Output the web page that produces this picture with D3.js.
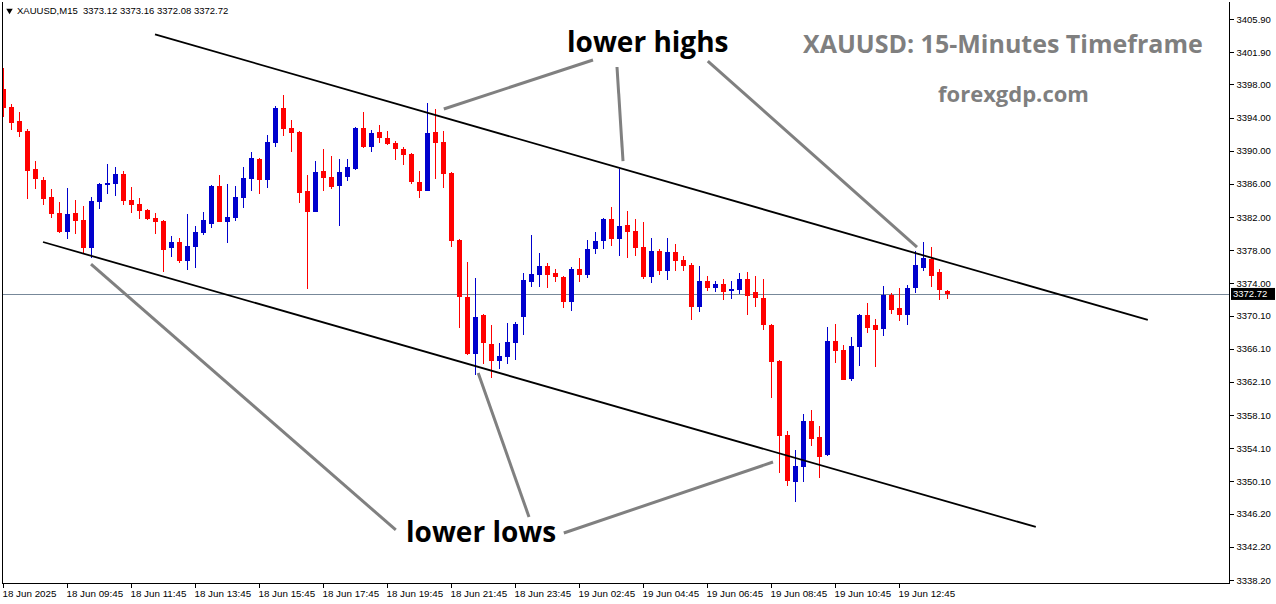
<!DOCTYPE html>
<html>
<head>
<meta charset="utf-8">
<script src="https://cdn.jsdelivr.net/npm/d3@7"></script>
<style>
html,body{margin:0;padding:0;background:#fff;}
svg{display:block;}
</style>
</head>
<body>
<svg id="chart" width="1276" height="604"></svg>
<script>
// ---- DATA (XAUUSD M15, 18 Jun 2025 07:45 -> 19 Jun 14:15) ----
const opens = [3397.46,3395.29,3393.60,3392.39,3387.80,3386.48,3384.46,3382.49,3380.23,3382.49,
3381.65,3378.31,3383.87,3385.91,3386.03,3387.20,3384.06,3383.58,3382.86,3381.89,
3381.53,3378.21,3379.02,3376.64,3378.43,3380.12,3381.20,3385.75,3381.45,3381.93,
3384.34,3386.64,3389.01,3386.52,3390.98,3395.16,3392.75,3392.27,3385.15,3382.65,
3387.60,3386.84,3385.79,3386.84,3387.84,3392.79,3390.50,3392.27,3391.55,3390.94,
3390.22,3389.61,3386.28,3385.19,3392.27,3391.06,3387.32,3379.26,3372.39,3365.43,
3370.22,3366.72,3364.58,3365.07,3366.76,3369.89,3374.20,3375.04,3376.09,3375.25,
3374.77,3371.79,3375.73,3375.04,3378.19,3379.06,3381.77,3379.39,3381.04,3380.32,
3378.39,3374.80,3377.90,3375.53,3377.78,3376.82,3376.21,3371.18,3374.28,3373.48,
3373.92,3373.11,3373.24,3374.52,3372.99,3372.27,3369.01,3364.67,3355.74,3350.07,
3351.88,3357.43,3355.50,3353.33,3367.08,3366.00,3362.51,3366.37,3370.23,3369.02,
3368.54,3372.63,3371.06,3370.22,3373.39,3375.89,3376.98,3375.40,3373.12];
const highs = [3399.96,3395.65,3394.68,3392.63,3388.77,3386.87,3385.43,3383.82,3385.51,3384.06,
3383.34,3384.47,3386.12,3388.41,3388.05,3387.56,3385.67,3384.34,3383.00,3382.53,
3381.69,3379.66,3379.50,3382.37,3380.93,3382.61,3385.87,3387.08,3385.99,3385.75,
3388.05,3389.86,3389.10,3391.91,3395.41,3396.77,3393.72,3392.43,3387.08,3388.77,
3390.22,3389.37,3389.01,3389.01,3392.91,3394.68,3392.51,3393.15,3392.39,3391.19,
3390.50,3389.70,3387.60,3395.77,3395.04,3392.39,3387.40,3379.35,3376.61,3374.68,
3370.30,3369.01,3366.84,3369.25,3369.37,3375.28,3379.87,3377.66,3376.45,3375.73,
3374.85,3375.97,3377.06,3379.23,3380.20,3381.85,3383.21,3387.84,3382.73,3381.77,
3381.41,3379.47,3378.15,3379.47,3378.75,3377.30,3376.49,3376.09,3374.92,3374.28,
3374.56,3374.28,3375.25,3375.37,3374.89,3374.56,3369.13,3364.76,3356.22,3353.93,
3358.28,3358.76,3356.83,3368.77,3369.13,3366.61,3367.58,3370.35,3371.68,3369.74,
3373.72,3372.88,3373.48,3373.85,3377.93,3379.03,3378.43,3375.76,3373.16];
const lows = [3394.11,3392.51,3391.70,3384.22,3385.39,3383.50,3381.93,3380.12,3379.39,3380.00,
3377.70,3377.07,3383.02,3384.83,3384.55,3383.46,3382.53,3381.81,3381.70,3380.00,
3375.42,3377.13,3376.40,3375.67,3375.90,3379.88,3380.72,3381.40,3378.91,3381.57,
3383.13,3385.19,3384.83,3385.55,3390.50,3391.82,3389.89,3383.75,3373.36,3382.55,
3385.19,3385.43,3380.96,3386.40,3387.68,3390.34,3389.89,3390.98,3390.74,3388.93,
3388.33,3386.04,3384.34,3385.10,3386.64,3385.55,3378.34,3368.57,3365.36,3362.89,
3364.22,3362.53,3363.62,3364.22,3364.71,3367.72,3373.60,3373.60,3373.48,3374.20,
3371.06,3370.70,3374.20,3374.68,3377.54,3378.19,3378.55,3377.34,3377.10,3377.34,
3374.56,3374.08,3375.04,3374.44,3375.53,3375.53,3369.61,3370.58,3373.11,3372.99,
3372.03,3372.15,3372.75,3370.22,3371.18,3368.41,3360.21,3351.16,3349.59,3347.66,
3350.07,3354.42,3350.55,3353.21,3364.43,3362.30,3362.27,3364.07,3368.06,3363.95,
3367.70,3370.34,3369.50,3369.01,3372.79,3375.53,3373.60,3372.02,3372.08];
const closes = [3395.16,3393.39,3392.31,3387.60,3386.63,3384.22,3382.41,3380.20,3382.37,3381.56,
3378.31,3383.95,3386.00,3386.12,3387.20,3383.98,3383.50,3382.77,3381.81,3381.45,
3378.07,3379.02,3376.64,3378.51,3380.20,3381.65,3385.75,3381.45,3382.01,3384.46,
3386.72,3389.13,3386.52,3391.06,3395.16,3392.67,3392.19,3384.95,3382.65,3387.44,
3386.76,3385.63,3387.44,3388.05,3392.79,3390.50,3392.15,3391.58,3390.86,3390.26,
3389.53,3386.28,3385.19,3392.15,3390.98,3387.24,3379.06,3372.31,3365.43,3369.97,
3366.76,3364.58,3365.27,3366.96,3369.13,3374.44,3375.16,3376.09,3375.04,3374.80,
3371.79,3375.73,3375.04,3378.15,3379.11,3381.77,3379.39,3380.93,3380.24,3378.31,
3374.80,3377.90,3375.53,3377.78,3376.73,3376.13,3371.18,3374.28,3373.48,3373.92,
3372.99,3373.36,3374.52,3372.51,3372.27,3369.02,3364.55,3355.62,3350.19,3352.00,
3357.43,3355.26,3353.09,3367.08,3365.87,3362.38,3366.49,3370.23,3368.66,3368.42,
3372.63,3370.82,3370.22,3373.48,3376.16,3377.10,3374.93,3373.23,3372.72];

const symbolHeader = "XAUUSD,M15  3373.12 3373.16 3372.08 3372.72";
const lastPrice = 3372.72;

const yTickValues = [3405.90,3401.90,3398.00,3394.00,3390.00,3386.00,3382.00,3378.00,3374.00,
  3370.10,3366.10,3362.10,3358.10,3354.10,3350.10,3346.20,3342.20,3338.20];
const xTickBars = [0,8,16,24,32,40,48,56,64,72,80,88,96,104,112];
const xTickLabels = ["18 Jun 2025","18 Jun 09:45","18 Jun 11:45","18 Jun 13:45","18 Jun 15:45",
  "18 Jun 17:45","18 Jun 19:45","18 Jun 21:45","18 Jun 23:45","19 Jun 02:45","19 Jun 04:45",
  "19 Jun 06:45","19 Jun 08:45","19 Jun 10:45","19 Jun 12:45"];

// channel trend lines: [barIndex, price]
const upperChannel = [[19,3404.05],[143.1,3369.58]];
const lowerChannel = [[5,3378.99],[129.1,3344.60]];
// grey annotation pointers: [barIndex, price] pairs
const pointers = [
  [[73.75,3400.95],[55.1,3395.04]],
  [[76.75,3400.11],[77.5,3388.76]],
  [[88.1,3400.83],[114.25,3378.38]],
  [[11.0,3376.33],[49.1,3344.24]],
  [[65.75,3345.81],[59.4,3363.18]],
  [[70.1,3343.87],[96.25,3352.44]]
];
const labels = [
  {text:"lower highs", x:567, y:52, size:28, color:"#000"},
  {text:"lower lows", x:406, y:542, size:28, color:"#000"},
  {text:"XAUUSD: 15-Minutes Timeframe", x:803, y:53, size:25, color:"#7f7f7f"},
  {text:"forexgdp.com", x:938, y:102, size:22, color:"#7f7f7f"}
];

// ---- LAYOUT ----
const W = 1276, H = 604;
const plotL = 2, plotR = 1229, plotB = 583, plotT = 2;
const svg = d3.select("#chart");
svg.append("rect").attr("width",W).attr("height",H).attr("fill","#fff");

const x = d3.scaleLinear().domain([0, 118]).range([3, 947]);
const y = d3.scaleLinear().domain([3338.2, 3405.9]).range([580, 19]);

const plot = svg.append("g");
const clipId = "plotclip";
svg.append("clipPath").attr("id",clipId).append("rect")
  .attr("x",plotL+1).attr("y",plotT).attr("width",plotR-plotL-1).attr("height",plotB-plotT);
plot.attr("clip-path",`url(#${clipId})`);

// current price line
plot.append("line")
  .attr("x1",plotL).attr("x2",plotR)
  .attr("y1",Math.round(y(lastPrice))+0.5).attr("y2",Math.round(y(lastPrice))+0.5)
  .attr("stroke","#778899").attr("stroke-width",1);

// candles
const bars = d3.range(opens.length).map(i => ({i, o:opens[i], h:highs[i], l:lows[i], c:closes[i]}));
const cg = plot.append("g").attr("shape-rendering","crispEdges");
bars.forEach(d => {
  const col = d.c >= d.o ? "#0000cd" : "#ff0000";
  const cx = Math.round(x(d.i));
  const yh = Math.round(y(d.h)), yl = Math.round(y(d.l));
  cg.append("rect").attr("x",cx).attr("width",1)
    .attr("y",yh).attr("height",Math.max(1,yl-yh)).attr("fill",col);
  const yt = Math.round(y(Math.max(d.o,d.c))), yb = Math.round(y(Math.min(d.o,d.c)));
  cg.append("rect").attr("x",cx-2).attr("width",5)
    .attr("y",yt).attr("height",Math.max(1,yb-yt)).attr("fill",col);
});

// channel lines
const lineGen = d3.line().x(d => x(d[0])).y(d => y(d[1]));
[upperChannel, lowerChannel].forEach(seg => {
  plot.append("path").attr("d", lineGen(seg)).attr("stroke","#000")
    .attr("stroke-width",1.8).attr("fill","none");
});
// grey pointers
pointers.forEach(seg => {
  plot.append("path").attr("d", lineGen(seg)).attr("stroke","#808080")
    .attr("stroke-width",3).attr("fill","none");
});

// text labels
labels.forEach(lb => {
  svg.append("text").attr("x",lb.x).attr("y",lb.y).text(lb.text)
    .attr("font-family","'Open Sans', sans-serif").attr("font-weight","bold")
    .attr("font-size",lb.size).attr("fill",lb.color);
});

// frame
const fg = svg.append("g").attr("shape-rendering","crispEdges").attr("stroke","#000");
fg.append("line").attr("x1",plotL+0.5).attr("x2",plotL+0.5).attr("y1",plotT).attr("y2",plotB+0.5);
fg.append("line").attr("x1",plotL).attr("x2",plotR+0.5).attr("y1",plotB+0.5).attr("y2",plotB+0.5);
fg.append("line").attr("x1",plotR+0.5).attr("x2",plotR+0.5).attr("y1",plotT).attr("y2",plotB+0.5);

// right axis
const ya = svg.append("g").attr("transform",`translate(${plotR+0.5},0)`)
  .call(d3.axisRight(y).tickValues(yTickValues).tickFormat(d3.format(".2f")).tickSize(4).tickPadding(3));
ya.select(".domain").remove();
ya.selectAll("text").attr("font-family","'Liberation Sans', Arial, sans-serif").attr("font-size","9.5px").attr("fill","#000");
ya.selectAll("line").attr("stroke","#000").attr("shape-rendering","crispEdges");

// price label box
const py = y(lastPrice);
svg.append("rect").attr("x",plotR+2).attr("y",py-6).attr("width",44).attr("height",12).attr("fill","#000");
svg.append("text").attr("x",plotR+4).attr("y",py+3.5).text(d3.format(".2f")(lastPrice))
  .attr("font-family","'Liberation Sans', Arial, sans-serif").attr("font-size","9.5px").attr("fill","#fff");

// bottom axis
const xa = svg.append("g").attr("transform",`translate(0,${plotB+0.5})`)
  .call(d3.axisBottom(x).tickValues(xTickBars).tickFormat((d,i)=>xTickLabels[i]).tickSize(4).tickPadding(3));
xa.select(".domain").remove();
xa.selectAll("line").attr("stroke","#000").attr("shape-rendering","crispEdges");
xa.selectAll("text").attr("text-anchor","start").attr("dx","-1")
  .attr("font-family","'Liberation Sans', Arial, sans-serif").attr("font-size","9.8px").attr("fill","#000");

// header
svg.append("path").attr("d", d3.symbol().type(d3.symbolTriangle).size(18)())
  .attr("transform","translate(9.5,10.5) rotate(180)").attr("fill","#000");
svg.append("text").attr("x",17).attr("y",14).text(symbolHeader)
  .attr("font-family","'Liberation Sans', Arial, sans-serif").attr("font-size","9.5px").attr("fill","#000")
  .attr("xml:space","preserve").style("white-space","pre");
</script>
</body>
</html>
